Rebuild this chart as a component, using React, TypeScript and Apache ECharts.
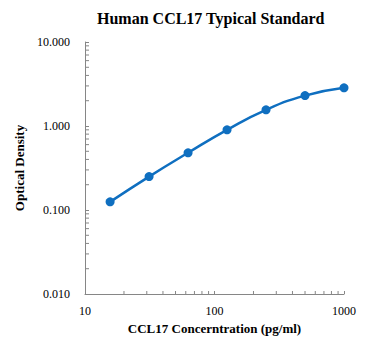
import React, { useEffect, useRef } from "react";
import * as echarts from "echarts";

const concentrations = [15.625, 31.25, 62.5, 125, 250, 500, 1000];
const opticalDensity = [0.125, 0.25, 0.48, 0.9, 1.56, 2.3, 2.85];
const yTickLabels = ["0.010", "0.100", "1.000", "10.000"];
const xTickLabels = ["10", "100", "1000"];
const xMinorTicks = [20, 30, 40, 50, 60, 70, 80, 90, 200, 300, 400, 500, 600, 700, 800, 900];
const yMinorTicks = [
  0.02, 0.03, 0.04, 0.05, 0.06, 0.07, 0.08, 0.09,
  0.2, 0.3, 0.4, 0.5, 0.6, 0.7, 0.8, 0.9,
  2, 3, 4, 5, 6, 7, 8, 9,
];

const FONT = "Liberation Serif";
const AXIS_COLOR = "#868686";
const LINE_COLOR = "#0f6fc0";

export default function App() {
  const ref = useRef<HTMLDivElement>(null);
  useEffect(() => {
    if (!ref.current) return;
    const chart = echarts.init(ref.current, undefined, { renderer: "svg" });
    const tickItem = (horizontal: boolean) => (params: any, api: any) => {
      const p = api.coord([api.value(0), api.value(1)]);
      return {
        type: "line",
        shape: horizontal
          ? { x1: p[0], y1: p[1], x2: p[0] + 4, y2: p[1] }
          : { x1: p[0], y1: p[1], x2: p[0], y2: p[1] - 3 },
        style: { stroke: AXIS_COLOR, lineWidth: 1 },
      };
    };
    const option: any = {
      animation: false,
      backgroundColor: "#ffffff",
      title: {
        text: "Human CCL17 Typical Standard",
        left: 92,
        top: 5,
        textStyle: { fontFamily: FONT, fontSize: 16, fontWeight: "bold", color: "#000" },
      },
      grid: { left: 85, right: 26, top: 42, bottom: 57, outerBoundsMode: "none", containLabel: false },
      xAxis: {
        type: "log",
        logBase: 10,
        min: 10,
        max: 1000,
        name: "CCL17 Concerntration (pg/ml)",
        nameLocation: "middle",
        nameGap: 26,
        nameTextStyle: { fontFamily: FONT, fontSize: 13, fontWeight: "bold", color: "#000" },
        axisLine: { lineStyle: { color: AXIS_COLOR, width: 1 } },
        axisTick: { show: true, inside: true, length: 3, lineStyle: { color: AXIS_COLOR } },
        splitLine: { show: false },
        axisLabel: {
          fontFamily: FONT,
          fontSize: 12,
          color: "#000",
          margin: 11,
          formatter: (v: number) => {
            const s = String(Math.round(v));
            return xTickLabels.includes(s) ? s : "";
          },
        },
      },
      yAxis: {
        type: "log",
        logBase: 10,
        min: 0.01,
        max: 10,
        name: "Optical Density",
        nameLocation: "middle",
        nameGap: 54,
        nameTextStyle: { fontFamily: FONT, fontSize: 13, fontWeight: "bold", color: "#000" },
        axisLine: { show: true, lineStyle: { color: AXIS_COLOR, width: 1 } },
        axisTick: { show: true, inside: true, length: 4, lineStyle: { color: AXIS_COLOR } },
        splitLine: { show: false },
        axisLabel: {
          fontFamily: FONT,
          fontSize: 12,
          color: "#000",
          margin: 15,
          formatter: (v: number) => {
            const s = v.toFixed(3);
            return yTickLabels.includes(s) ? s : "";
          },
        },
      },
      series: [
        {
          type: "custom",
          silent: true,
          clip: false,
          data: xMinorTicks.map((v) => [v, 0.01]),
          renderItem: tickItem(false),
          z: 1,
        },
        {
          type: "custom",
          silent: true,
          clip: false,
          data: yMinorTicks.map((v) => [10, v]),
          renderItem: tickItem(true),
          z: 1,
        },
        {
          type: "line",
          data: concentrations.map((c, i) => [c, opticalDensity[i]]),
          smooth: true,
          symbol: "circle",
          symbolSize: 9,
          lineStyle: { color: LINE_COLOR, width: 2.5 },
          itemStyle: { color: LINE_COLOR },
          z: 3,
        },
      ],
    };
    chart.setOption(option);
    return () => chart.dispose();
  }, []);
  return (
    <div
      ref={ref}
      style={{ width: 370, height: 351, position: "fixed", left: 0, top: 0 }}
    />
  );
}
